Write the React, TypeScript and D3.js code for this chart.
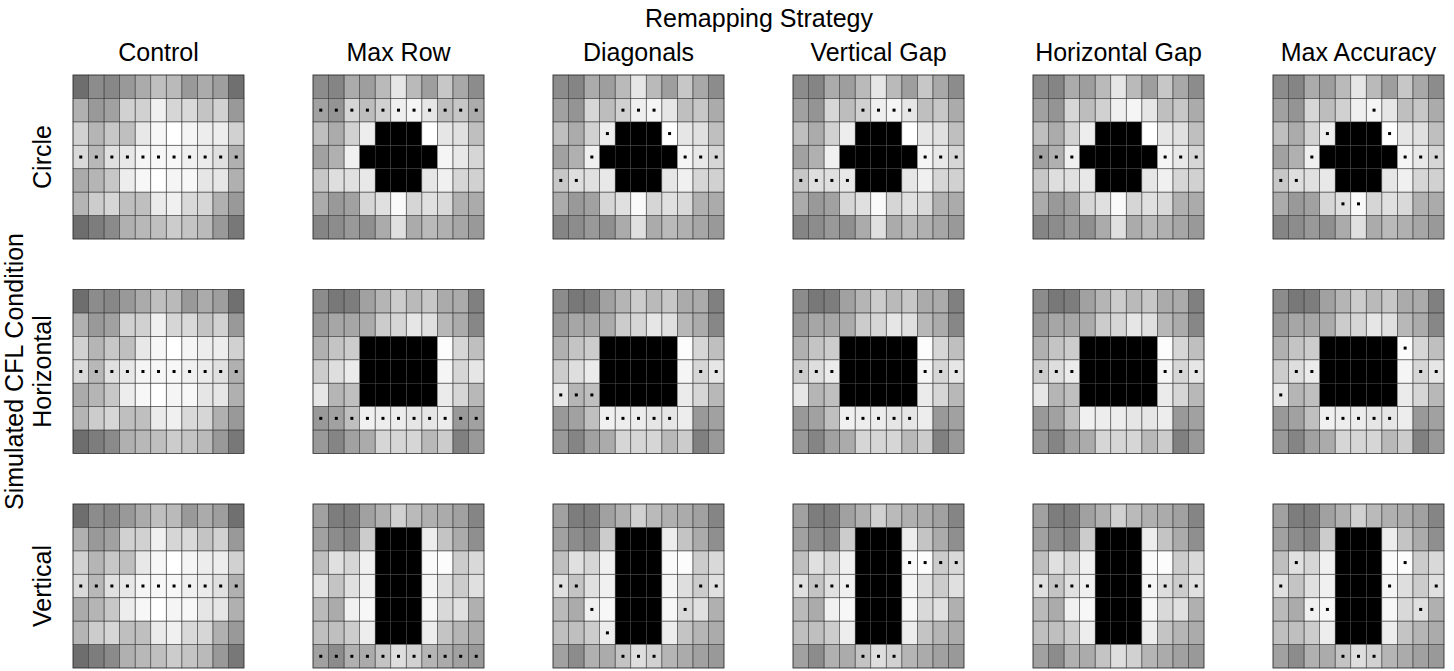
import * as d3 from 'd3';

// Remapping strategies (columns) and simulated CFL conditions (rows)
const strategies = ['Control', 'Max Row', 'Diagonals', 'Vertical Gap', 'Horizontal Gap', 'Max Accuracy'];
const conditions = ['Circle', 'Horizontal', 'Vertical'];

// 7 x 11 grey values (0 = black / CFL, 1 = white)
const controlGrid = [
  [0.43, 0.55, 0.53, 0.60, 0.67, 0.75, 0.73, 0.60, 0.67, 0.62, 0.44],
  [0.69, 0.60, 0.63, 0.82, 0.82, 0.94, 0.84, 0.85, 0.77, 0.82, 0.60],
  [0.82, 0.71, 0.78, 0.75, 0.91, 0.97, 1.00, 0.96, 0.93, 0.93, 0.82],
  [0.85, 0.72, 0.88, 0.91, 0.96, 0.97, 0.97, 0.94, 0.92, 0.88, 0.69],
  [0.67, 0.71, 0.78, 0.93, 0.97, 1.00, 0.96, 0.97, 0.90, 0.90, 0.69],
  [0.71, 0.80, 0.84, 0.75, 0.75, 0.92, 0.94, 0.85, 0.84, 0.69, 0.60],
  [0.43, 0.49, 0.54, 0.69, 0.72, 0.75, 0.80, 0.77, 0.73, 0.60, 0.47],
];

const circleGrid = [
  [0.55, 0.52, 0.67, 0.62, 0.73, 0.90, 0.73, 0.62, 0.78, 0.66, 0.55],
  [0.63, 0.58, 0.84, 0.74, 0.82, 0.94, 0.96, 0.90, 0.75, 0.78, 0.67],
  [0.75, 0.67, 0.82, 0.93, 0, 0, 0, 1.00, 0.90, 0.88, 0.75],
  [0.63, 0.69, 0.94, 0, 0, 0, 0, 0, 0.96, 0.91, 0.84],
  [0.78, 0.87, 0.88, 0.91, 0, 0, 0, 0.90, 0.94, 0.84, 0.82],
  [0.67, 0.60, 0.63, 0.84, 0.88, 0.98, 0.84, 0.88, 0.85, 0.69, 0.67],
  [0.52, 0.55, 0.60, 0.56, 0.67, 0.88, 0.67, 0.73, 0.69, 0.65, 0.60],
];

const horizontalGrid = [
  [0.55, 0.47, 0.49, 0.63, 0.71, 0.80, 0.73, 0.78, 0.67, 0.67, 0.50],
  [0.60, 0.65, 0.65, 0.67, 0.80, 0.84, 0.90, 0.88, 0.72, 0.67, 0.53],
  [0.69, 0.77, 0.80, 0, 0, 0, 0, 0, 0.99, 0.84, 0.75],
  [0.80, 0.87, 0.92, 0, 0, 0, 0, 0, 0.96, 0.84, 0.90],
  [0.90, 0.71, 0.75, 0, 0, 0, 0, 0, 0.92, 0.84, 0.72],
  [0.60, 0.63, 0.75, 0.94, 0.93, 0.93, 0.90, 0.90, 0.93, 0.60, 0.63],
  [0.60, 0.52, 0.63, 0.67, 0.84, 0.84, 0.84, 0.72, 0.80, 0.50, 0.60],
];

const verticalGrid = [
  [0.63, 0.49, 0.49, 0.63, 0.69, 0.82, 0.73, 0.69, 0.67, 0.63, 0.52],
  [0.63, 0.55, 0.52, 0.80, 0, 0, 0, 0.93, 0.77, 0.67, 0.56],
  [0.75, 0.88, 0.84, 0.94, 0, 0, 0, 0.98, 0.99, 0.80, 0.85],
  [0.88, 0.77, 0.88, 0.94, 0, 0, 0, 0.96, 0.87, 0.80, 0.88],
  [0.73, 0.67, 0.94, 0.97, 0, 0, 0, 0.97, 0.85, 0.88, 0.69],
  [0.75, 0.75, 0.80, 0.93, 0, 0, 0, 0.93, 0.77, 0.71, 0.67],
  [0.63, 0.55, 0.69, 0.67, 0.77, 0.87, 0.82, 0.71, 0.67, 0.63, 0.60],
];

const conditionGrids = [circleGrid, horizontalGrid, verticalGrid];

// letter positions [row, col] for each condition x strategy
const controlDots = d3.range(11).map((c) => [3, c]);

const circleDots = [
  controlDots,
  d3.range(11).map((c) => [1, c]),
  [[1, 4], [1, 5], [1, 6], [2, 3], [2, 7], [3, 2], [3, 8], [3, 9], [3, 10], [4, 0], [4, 1]],
  [[1, 4], [1, 5], [1, 6], [1, 7], [3, 8], [3, 9], [3, 10], [4, 0], [4, 1], [4, 2], [4, 3]],
  [[3, 0], [3, 1], [3, 2], [3, 8], [3, 9], [3, 10]],
  [[1, 6], [2, 3], [2, 7], [3, 2], [3, 8], [3, 9], [3, 10], [4, 0], [4, 1], [5, 4], [5, 5]],
];

const horizontalDots = [
  controlDots,
  d3.range(11).map((c) => [5, c]),
  [[3, 9], [3, 10], [4, 0], [4, 1], [4, 2], [5, 3], [5, 4], [5, 5], [5, 6], [5, 7]],
  [[3, 0], [3, 1], [3, 2], [3, 8], [3, 9], [3, 10], [5, 3], [5, 4], [5, 5], [5, 6], [5, 7]],
  [[3, 0], [3, 1], [3, 2], [3, 8], [3, 9], [3, 10]],
  [[2, 8], [3, 1], [3, 2], [3, 9], [3, 10], [4, 0], [5, 3], [5, 4], [5, 5], [5, 6], [5, 7]],
];

const verticalDots = [
  controlDots,
  d3.range(11).map((c) => [6, c]),
  [[3, 0], [3, 1], [3, 9], [3, 10], [4, 2], [4, 8], [5, 3], [6, 4], [6, 5], [6, 6]],
  [[2, 7], [2, 8], [2, 9], [2, 10], [3, 0], [3, 1], [3, 2], [3, 3], [6, 4], [6, 5], [6, 6]],
  [[3, 0], [3, 1], [3, 2], [3, 3], [3, 7], [3, 8], [3, 9], [3, 10]],
  [[2, 1], [2, 8], [3, 0], [3, 7], [3, 10], [4, 2], [4, 3], [4, 9], [6, 4], [6, 5], [6, 6]],
];

const conditionDots = [circleDots, horizontalDots, verticalDots];

const W = 1454;
const H = 671;
const FONT = 'Liberation Sans, Arial, sans-serif';
const FS = 25;

export default function App() {
  const panelW = 171;
  const panelH = 164;
  const px = d3.scaleLinear().domain([0, 1]).range([73, 313]);
  const py = d3.scaleLinear().domain([0, 1]).range([75, 289.5]);
  const cx = d3.scaleBand<number>().domain(d3.range(11)).range([0, panelW]);
  const cy = d3.scaleBand<number>().domain(d3.range(7)).range([0, panelH]);
  const grey = d3.scaleLinear<string>().domain([0, 1]).range(['#000000', '#ffffff']);

  return (
    <svg
      width={W}
      height={H}
      style={{ position: 'absolute', left: 0, top: 0, background: '#fff' }}
      fontFamily={FONT}
    >
      <text x={759} y={27} textAnchor="middle" fontSize={FS} fill="#000">
        Remapping Strategy
      </text>
      {strategies.map((s, i) => (
        <text key={s} x={px(i) + panelW / 2} y={61} textAnchor="middle" fontSize={FS} fill="#000">
          {s}
        </text>
      ))}
      <text
        transform={`translate(23, ${py(1) + panelH / 2}) rotate(-90)`}
        textAnchor="middle"
        fontSize={FS}
        fill="#000"
      >
        Simulated CFL Condition
      </text>
      {conditions.map((c, j) => (
        <text
          key={c}
          transform={`translate(51, ${py(j) + panelH / 2}) rotate(-90)`}
          textAnchor="middle"
          fontSize={FS}
          fill="#000"
        >
          {c}
        </text>
      ))}

      {conditions.map((cond, j) =>
        strategies.map((strat, i) => {
          const grid = i === 0 ? controlGrid : conditionGrids[j];
          const dots = conditionDots[j][i];
          return (
            <g key={`${cond}-${strat}`} transform={`translate(${px(i)}, ${py(j)})`}>
              {grid.map((row, r) =>
                row.map((v, c) => (
                  <rect
                    key={`${r}-${c}`}
                    x={cx(c)}
                    y={cy(r)}
                    width={cx.bandwidth()}
                    height={cy.bandwidth()}
                    fill={grey(v)}
                  />
                ))
              )}
              {grid.map((row, r) =>
                row.map((v, c) => (
                  <rect
                    key={`b-${r}-${c}`}
                    x={cx(c)}
                    y={cy(r)}
                    width={cx.bandwidth()}
                    height={cy.bandwidth()}
                    fill="none"
                    stroke={v === 0 ? 'none' : 'rgba(50,50,50,0.6)'}
                    strokeWidth={0.7}
                  />
                ))
              )}
              {dots.map(([r, c]) => (
                <rect
                  key={`d-${r}-${c}`}
                  x={(cx(c) ?? 0) + cx.bandwidth() / 2 - 1.5}
                  y={(cy(r) ?? 0) + cy.bandwidth() / 2 - 1.5}
                  width={3}
                  height={3}
                  fill="#000"
                />
              ))}
              <rect
                x={0}
                y={0}
                width={panelW}
                height={panelH}
                fill="none"
                stroke="rgba(40,40,40,0.75)"
                strokeWidth={0.8}
              />
            </g>
          );
        })
      )}
    </svg>
  );
}
